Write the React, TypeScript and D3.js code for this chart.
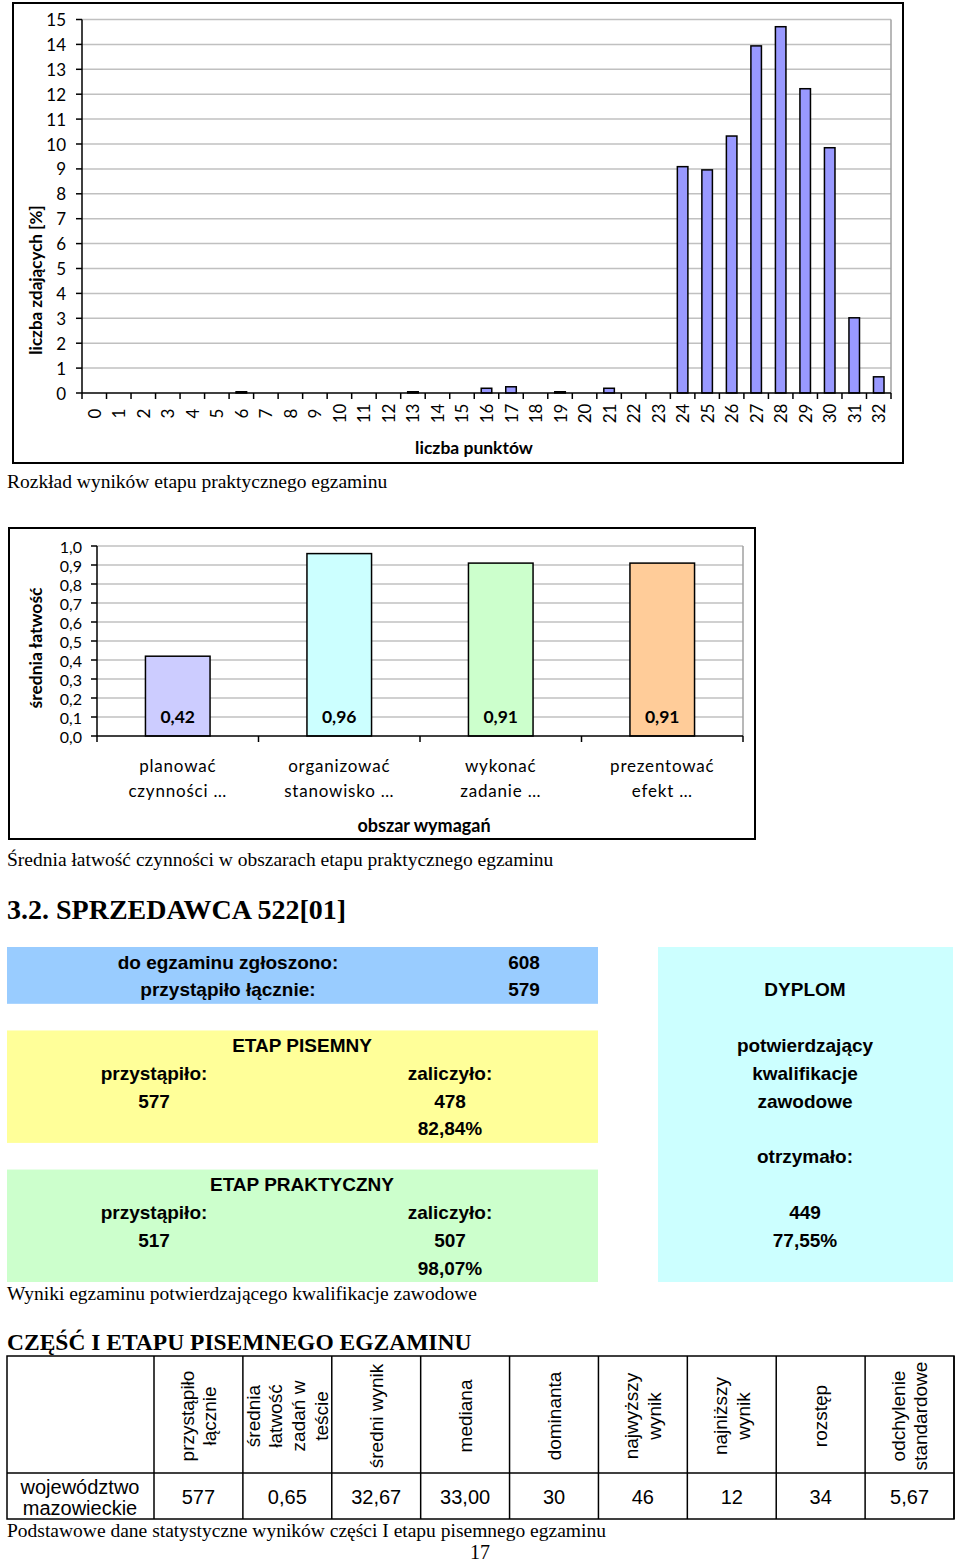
import React from "react";
import * as d3 from "d3";

// --- chart 1: rozkład wyników etapu praktycznego
const scoreLabels = [
  "0", "1", "2", "3", "4", "5", "6", "7", "8", "9", "10", "11", "12", "13", "14", "15", "16",
  "17", "18", "19", "20", "21", "22", "23", "24", "25", "26", "27", "28", "29", "30", "31", "32",
];
const scoreShares = [
  0, 0, 0, 0, 0, 0, 0.05, 0, 0, 0, 0, 0, 0, 0.05, 0, 0, 0.19,
  0.25, 0, 0.05, 0, 0.19, 0, 0, 9.09, 8.96, 10.32, 13.94, 14.71, 12.22, 9.85, 3.02, 0.65,
];

// --- chart 2: średnia łatwość w obszarach
const areaNames = [
  ["planować", "czynności …"],
  ["organizować", "stanowisko …"],
  ["wykonać", "zadanie …"],
  ["prezentować", "efekt …"],
];
const areaEase = [0.42, 0.96, 0.91, 0.91];
const areaFills = ["#ccccff", "#ccffff", "#ccffcc", "#ffcc99"];

// --- wyniki egzaminu
const enrolLabels = ["do egzaminu zgłoszono:", "przystąpiło łącznie:"];
const enrolValues = ["608", "579"];
const stageTitles = ["ETAP PISEMNY", "ETAP PRAKTYCZNY"];
const stageTook = ["577", "517"];
const stagePassed = ["478", "507"];
const stageRates = ["82,84%", "98,07%"];
const diplomaLines = ["", "DYPLOM", "", "potwierdzający", "kwalifikacje", "zawodowe", "", "otrzymało:", "", "449", "77,55%", ""];

// --- tabela statystyk
const statHeaders = [
  ["przystąpiło", "łącznie"],
  ["średnia", "łatwość", "zadań w", "teście"],
  ["średni wynik"],
  ["mediana"],
  ["dominanta"],
  ["najwyższy", "wynik"],
  ["najniższy", "wynik"],
  ["rozstęp"],
  ["odchylenie", "standardowe"],
];
const statValues = ["577", "0,65", "32,67", "33,00", "30", "46", "12", "34", "5,67"];
const regionName = ["województwo", "mazowieckie"];

const CHART = "Lato, 'Open Sans', sans-serif";
const ARIAL = "'Liberation Sans', Arial, sans-serif";
const SERIF = "'Liberation Serif', 'Times New Roman', serif";

const plLocale = d3.formatLocale({ decimal: ",", thousands: " ", grouping: [3], currency: ["", " zł"] });
const fmt1 = plLocale.format(".1f");
const fmt2 = plLocale.format(".2f");

const ScoreChart = () => {
  const x = d3.scaleBand().domain(scoreLabels).range([82, 891]).paddingInner(0.57).paddingOuter(0.285);
  const edge = d3.scaleLinear().domain([0, scoreLabels.length]).range([82, 891]);
  const y = d3.scaleLinear().domain([0, 15]).range([393, 19.5]);
  const bw = x.bandwidth();
  return (
    <g>
      <rect x={13} y={3} width={890} height={460} fill="#fff" stroke="#000" strokeWidth={2} />
      {y.ticks(15).map((t) => (
        <g key={t}>
          {t > 0 && <line x1={82} x2={891} y1={y(t)} y2={y(t)} stroke="#c0c0c0" strokeWidth={1.5} />}
          <line x1={76} x2={82} y1={y(t)} y2={y(t)} stroke="#000" strokeWidth={1.5} />
          <text x={66} y={y(t)} textAnchor="end" dominantBaseline="central" fontFamily={CHART} fontSize={17}>
            {t}
          </text>
        </g>
      ))}
      <line x1={891} x2={891} y1={y(15)} y2={y(0)} stroke="#a0a0a0" strokeWidth={1.5} />
      {scoreLabels.map((s, i) =>
        scoreShares[i] > 0 ? (
          <rect key={s} x={x(s)} y={y(scoreShares[i])} width={bw} height={y(0) - y(scoreShares[i])}
            fill="#9999ff" stroke="#000" strokeWidth={1.5} />
        ) : null
      )}
      <line x1={82} x2={82} y1={y(15)} y2={y(0)} stroke="#000" strokeWidth={1.5} />
      <line x1={82} x2={891} y1={y(0)} y2={y(0)} stroke="#000" strokeWidth={1.5} />
      {d3.range(scoreLabels.length + 1).map((i) => (
        <line key={i} x1={edge(i)} x2={edge(i)} y1={y(0)} y2={y(0) + 6} stroke="#000" strokeWidth={1.5} />
      ))}
      {scoreLabels.map((s) => (
        <text key={s} transform={`translate(${(x(s) ?? 0) + bw / 2},413.5) rotate(-90)`} textAnchor="middle"
          dominantBaseline="central" fontFamily={CHART} fontSize={17}>
          {s}
        </text>
      ))}
      <text transform="translate(35,280) rotate(-90)" textAnchor="middle" dominantBaseline="central"
        fontFamily={CHART} fontWeight="bold" fontSize={17}>
        liczba zdających [%]
      </text>
      <text x={474} y={447} textAnchor="middle" dominantBaseline="central" fontFamily={CHART} fontWeight="bold" fontSize={17.5}>
        liczba punktów
      </text>
    </g>
  );
};

const AreaChart = () => {
  const idx = areaNames.map((_, i) => String(i));
  const x = d3.scaleBand().domain(idx).range([97, 743]).paddingInner(0.6).paddingOuter(0.3);
  const edge = d3.scaleLinear().domain([0, areaNames.length]).range([97, 743]);
  const y = d3.scaleLinear().domain([0, 1]).range([736, 546]);
  const bw = x.bandwidth();
  return (
    <g>
      <rect x={9} y={528} width={746} height={311} fill="#fff" stroke="#000" strokeWidth={2} />
      {y.ticks(10).map((t) => (
        <g key={t}>
          {t > 0 && <line x1={97} x2={743} y1={y(t)} y2={y(t)} stroke="#c0c0c0" strokeWidth={1.5} />}
          <line x1={91} x2={97} y1={y(t)} y2={y(t)} stroke="#000" strokeWidth={1.5} />
          <text x={82} y={y(t)} textAnchor="end" dominantBaseline="central" fontFamily={CHART} fontSize={16}>
            {fmt1(t)}
          </text>
        </g>
      ))}
      <line x1={743} x2={743} y1={y(1)} y2={y(0)} stroke="#a0a0a0" strokeWidth={1.5} />
      {idx.map((k, i) => (
        <g key={k}>
          <rect x={x(k)} y={y(areaEase[i])} width={bw} height={y(0) - y(areaEase[i])} fill={areaFills[i]}
            stroke="#000" strokeWidth={1.5} />
          <text x={(x(k) ?? 0) + bw / 2} y={y(0) - 20} textAnchor="middle" dominantBaseline="central"
            fontFamily={CHART} fontWeight="bold" fontSize={17.5}>
            {fmt2(areaEase[i])}
          </text>
          {areaNames[i].map((line, j) => (
            <text key={j} x={(x(k) ?? 0) + bw / 2} y={765 + j * 25} textAnchor="middle" dominantBaseline="central"
              fontFamily={CHART} fontSize={17} letterSpacing={0.8}>
              {line}
            </text>
          ))}
        </g>
      ))}
      <line x1={97} x2={97} y1={y(1)} y2={y(0)} stroke="#000" strokeWidth={1.5} />
      <line x1={97} x2={743} y1={y(0)} y2={y(0)} stroke="#000" strokeWidth={1.5} />
      {d3.range(areaNames.length + 1).map((i) => (
        <line key={i} x1={edge(i)} x2={edge(i)} y1={y(0)} y2={y(0) + 6} stroke="#000" strokeWidth={1.5} />
      ))}
      <text transform="translate(35,648) rotate(-90)" textAnchor="middle" dominantBaseline="central"
        fontFamily={CHART} fontWeight="bold" fontSize={17.5}>
        średnia łatwość
      </text>
      <text x={424} y={825} textAnchor="middle" dominantBaseline="central" fontFamily={CHART} fontWeight="bold" fontSize={18}>
        obszar wymagań
      </text>
    </g>
  );
};

const ResultBoxes = () => {
  const row = d3.scaleLinear().domain([0, 11]).range([962, 1268]);
  const box = (a: number, b: number, x0: number, x1: number, fill: string) => (
    <rect x={x0} y={row(a) - 15} width={x1 - x0} height={row(b) - row(a) + 29} fill={fill} />
  );
  const t = (s: string, cx: number, r: number, key?: string) => (
    <text key={key} x={cx} y={row(r)} textAnchor="middle" dominantBaseline="central" fontFamily={ARIAL}
      fontWeight="bold" fontSize={19}>
      {s}
    </text>
  );
  return (
    <g>
      {box(0, 1, 7, 598, "#99ccff")}
      {box(3, 6, 7, 598, "#ffff99")}
      {box(8, 11, 7, 598, "#ccffcc")}
      {box(0, 11, 658, 953, "#ccffff")}
      {enrolLabels.map((s, i) => t(s, 228, i, "l" + i))}
      {enrolValues.map((s, i) => t(s, 524, i, "v" + i))}
      {stageTitles.map((s, i) => (
        <g key={s}>
          {t(s, 302, 3 + i * 5)}
          {t("przystąpiło:", 154, 4 + i * 5)}
          {t("zaliczyło:", 450, 4 + i * 5)}
          {t(stageTook[i], 154, 5 + i * 5)}
          {t(stagePassed[i], 450, 5 + i * 5)}
          {t(stageRates[i], 450, 6 + i * 5)}
        </g>
      ))}
      {diplomaLines.map((s, i) => (s ? t(s, 805, i, "d" + i) : null))}
    </g>
  );
};

const StatsTable = () => {
  const idx = statHeaders.map((_, i) => String(i));
  const x = d3.scaleBand().domain(idx).range([154, 954]);
  const bw = x.bandwidth();
  const top = 1356;
  const mid = 1473;
  const bottom = 1519;
  return (
    <g>
      <rect x={7} y={top} width={947} height={bottom - top} fill="none" stroke="#000" strokeWidth={1.5} />
      <line x1={7} x2={954} y1={mid} y2={mid} stroke="#000" strokeWidth={1.5} />
      <line x1={154} x2={154} y1={top} y2={bottom} stroke="#000" strokeWidth={1.5} />
      {idx.map((k, i) => {
        const cx = (x(k) ?? 0) + bw / 2;
        const lines = statHeaders[i];
        return (
          <g key={k}>
            <line x1={(x(k) ?? 0) + bw} x2={(x(k) ?? 0) + bw} y1={top} y2={bottom} stroke="#000" strokeWidth={1.5} />
            {lines.map((s, j) => (
              <text key={j} transform={`translate(${cx + (j - (lines.length - 1) / 2) * 22.7},1416) rotate(-90)`}
                textAnchor="middle" dominantBaseline="central" fontFamily={ARIAL} fontSize={19}>
                {s}
              </text>
            ))}
            <text x={cx} y={1497} textAnchor="middle" dominantBaseline="central" fontFamily={ARIAL} fontSize={20}>
              {statValues[i]}
            </text>
          </g>
        );
      })}
      {regionName.map((s, j) => (
        <text key={s} x={80} y={1487 + j * 21} textAnchor="middle" dominantBaseline="central" fontFamily={ARIAL} fontSize={20}>
          {s}
        </text>
      ))}
    </g>
  );
};

export default function App() {
  return (
    <svg width={960} height={1567} style={{ position: "absolute", left: 0, top: 0, background: "#fff" }}>
      <rect width={960} height={1567} fill="#fff" />
      <ScoreChart />
      <text x={7} y={488} fontFamily={SERIF} fontSize={19.5}>Rozkład wyników etapu praktycznego egzaminu</text>
      <AreaChart />
      <text x={7} y={866} fontFamily={SERIF} fontSize={19.5}>
        Średnia łatwość czynności w obszarach etapu praktycznego egzaminu
      </text>
      <text x={7} y={919} fontFamily={SERIF} fontWeight="bold" fontSize={28}>3.2. SPRZEDAWCA 522[01]</text>
      <ResultBoxes />
      <text x={7} y={1300} fontFamily={SERIF} fontSize={19.5}>Wyniki egzaminu potwierdzającego kwalifikacje zawodowe</text>
      <text x={7} y={1350} fontFamily={SERIF} fontWeight="bold" fontSize={23.5}>CZĘŚĆ I ETAPU PISEMNEGO EGZAMINU</text>
      <StatsTable />
      <text x={7} y={1537} fontFamily={SERIF} fontSize={19.5}>
        Podstawowe dane statystyczne wyników części I etapu pisemnego egzaminu
      </text>
      <text x={480} y={1552} textAnchor="middle" dominantBaseline="central" fontFamily={SERIF} fontSize={20}>17</text>
    </svg>
  );
}
